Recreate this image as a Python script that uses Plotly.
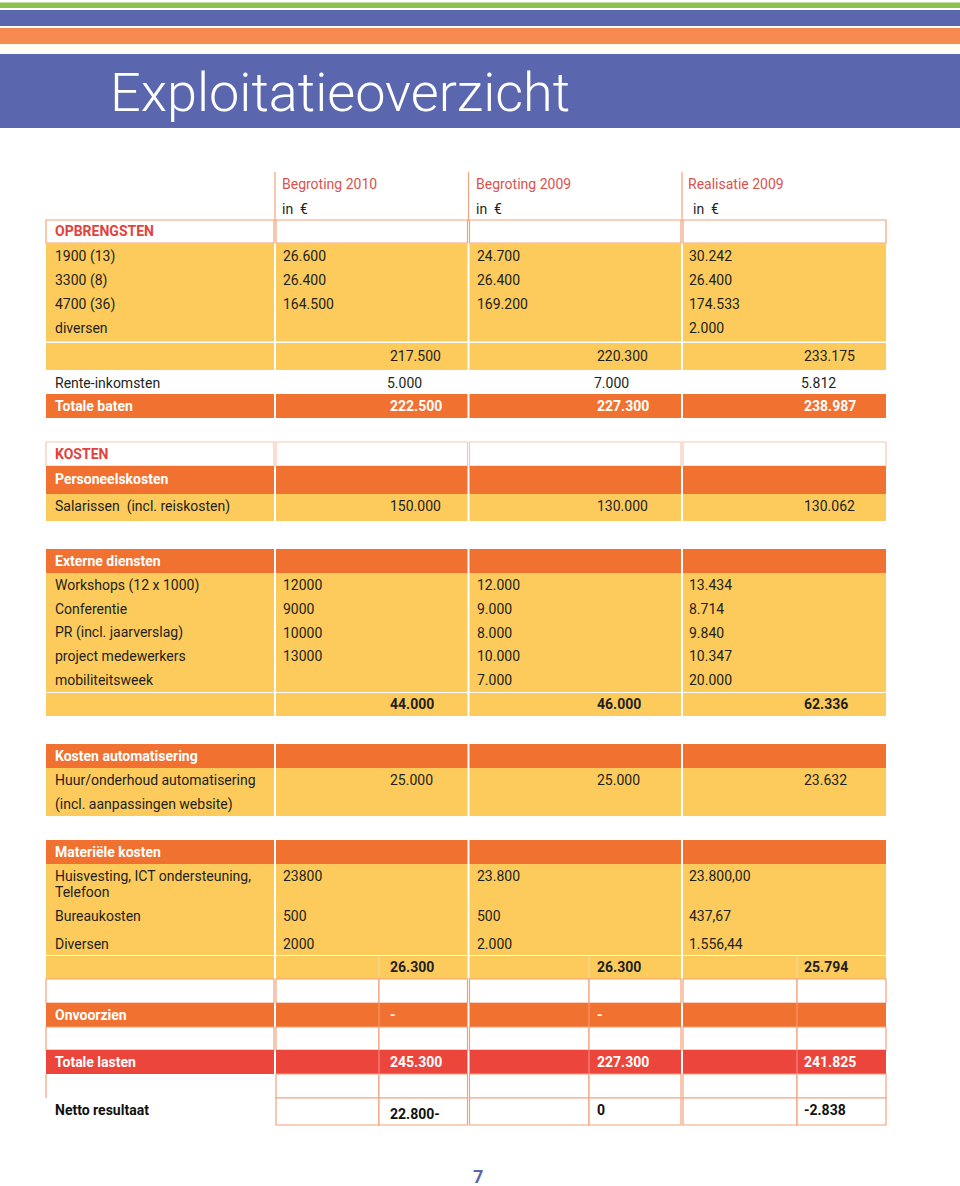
import plotly.graph_objects as go

# kolomkoppen
kolommen = ["Begroting 2010", "Begroting 2009", "Realisatie 2009"]

# opbrengsten
opbrengst_posten = ["1900 (13)", "3300 (8)", "4700 (36)", "diversen"]
opbrengst_b2010 = ["26.600", "26.400", "164.500", ""]
opbrengst_b2009 = ["24.700", "26.400", "169.200", ""]
opbrengst_r2009 = ["30.242", "26.400", "174.533", "2.000"]
opbrengst_subtotaal = ["217.500", "220.300", "233.175"]
rente_inkomsten = ["5.000", "7.000", "5.812"]
totale_baten = ["222.500", "227.300", "238.987"]

# kosten
salarissen = ["150.000", "130.000", "130.062"]

extern_posten = ["Workshops (12 x 1000)", "Conferentie", "PR (incl. jaarverslag)",
                 "project medewerkers", "mobiliteitsweek"]
extern_b2010 = ["12000", "9000", "10000", "13000", ""]
extern_b2009 = ["12.000", "9.000", "8.000", "10.000", "7.000"]
extern_r2009 = ["13.434", "8.714", "9.840", "10.347", "20.000"]
extern_subtotaal = ["44.000", "46.000", "62.336"]

automatisering = ["25.000", "25.000", "23.632"]

materieel_posten = ["Huisvesting, ICT ondersteuning,", "Bureaukosten", "Diversen"]
materieel_b2010 = ["23800", "500", "2000"]
materieel_b2009 = ["23.800", "500", "2.000"]
materieel_r2009 = ["23.800,00", "437,67", "1.556,44"]
materieel_subtotaal = ["26.300", "26.300", "25.794"]

onvoorzien = ["-", "-", ""]
totale_lasten = ["245.300", "227.300", "241.825"]
netto_resultaat = ["22.800-", "0", "-2.838"]

# kleuren / opmaak
YELLOW = "#fccb5b"
ORANGE = "#f07130"
RED = "#eb453c"
LINE = "#f2a27c"
INK = "#231f20"
HEAD = "#d9534e"
BLUE = "#5a67ae"
FONT = "Roboto"

W, H = 960, 1186
COL_X = [(46, 274), (276, 467.5), (469.5, 681), (683, 886)]
SUB_X = [379, 589, 797]
ITEM_X = [281, 475, 687]
TOT_X = [388, 595, 802]
LAB_X = 53

fig = go.Figure()


def box(x0, x1, y0, y1, fill="white", line=None, lw=1.2):
    fig.add_shape(type="rect", xref="x", yref="y", x0=x0, x1=x1, y0=y0, y1=y1,
                  fillcolor=fill, line=dict(color=line or fill, width=lw if line else 0))


def vline(x, y0, y1, color=LINE, lw=1.2):
    fig.add_shape(type="line", xref="x", yref="y", x0=x, x1=x, y0=y0, y1=y1,
                  line=dict(color=color, width=lw))


def txt(x, y, s, color=INK, size=14, bold=False, anchor="left", weight=None):
    if not s:
        return
    f = dict(family=FONT, size=size, color=color)
    if weight:
        f["weight"] = weight
    fig.add_annotation(x=x, y=y, xref="x", yref="y", text=f"<b>{s}</b>" if bold else s,
                       showarrow=False, xanchor=anchor, yanchor="middle", font=f)


def band(y0, y1, fill, line=None):
    for x0, x1 in COL_X:
        box(x0, x1, y0, y1, fill, line)


def split_row(y0, y1, fill="white", line=LINE, first=True):
    if first:
        box(*COL_X[0], y0, y1, fill, line)
    for c in range(1, 4):
        x0, x1 = COL_X[c]
        box(x0, SUB_X[c - 1], y0, y1, fill, line)
        box(SUB_X[c - 1], x1, y0, y1, fill, line)


# kopbalken
box(0, W, 2.5, 8, "#8dc14c")
box(0, W, 10, 26, BLUE)
box(0, W, 28, 44, "#f68a4f")
box(0, W, 44, 54, "#fffcf4")
box(0, W, 54, 128, BLUE)
txt(108, 92, "Exploitatieoverzicht", color="white", size=54, weight=300)

# kolomkoppen
for c, naam in enumerate(kolommen):
    vline(COL_X[c][1] + 1, 172, 221)
    txt(ITEM_X[c] - 1, 184, naam, color=HEAD)
    txt(ITEM_X[c] - 1 + (5 if c == 2 else 0), 209, "in  €")

# OPBRENGSTEN
band(220, 243, "white", LINE)
txt(LAB_X, 231, "OPBRENGSTEN", color="#e2423c", bold=True)
band(243, 341.5, YELLOW)
for i, post in enumerate(opbrengst_posten):
    yc = 256 + i * 24
    txt(LAB_X, yc, post)
    for c, reeks in enumerate([opbrengst_b2010, opbrengst_b2009, opbrengst_r2009]):
        txt(ITEM_X[c], yc, reeks[i])
band(343, 370, YELLOW)
for c in range(3):
    txt(TOT_X[c], 356, opbrengst_subtotaal[c])
txt(LAB_X, 383, "Rente-inkomsten")
for c in range(3):
    txt(TOT_X[c] - 3, 383, rente_inkomsten[c])
band(394, 418, ORANGE)
txt(LAB_X, 406, "Totale baten", color="white", bold=True)
for c in range(3):
    txt(TOT_X[c], 406, totale_baten[c], color="white", bold=True)

# KOSTEN
band(442, 466, "white", "#f3c9b6")
txt(LAB_X, 454, "KOSTEN", color="#e2423c", bold=True)
band(466, 494, ORANGE)
txt(LAB_X, 479, "Personeelskosten", color="white", bold=True)
band(494, 521, YELLOW)
txt(LAB_X, 506, "Salarissen  (incl. reiskosten)")
for c in range(3):
    txt(TOT_X[c], 506, salarissen[c])

band(549, 573, ORANGE)
txt(LAB_X, 561, "Externe diensten", color="white", bold=True)
band(573, 692, YELLOW)
for i, post in enumerate(extern_posten):
    yc = 585 + i * 23.8
    txt(LAB_X, yc, post)
    for c, reeks in enumerate([extern_b2010, extern_b2009, extern_r2009]):
        txt(ITEM_X[c], yc, reeks[i])
band(693, 716, YELLOW)
for c in range(3):
    txt(TOT_X[c], 704, extern_subtotaal[c], bold=True)

band(744, 768, ORANGE)
txt(LAB_X, 756, "Kosten automatisering", color="white", bold=True)
band(768, 816, YELLOW)
txt(LAB_X, 780, "Huur/onderhoud automatisering")
txt(LAB_X, 804, "(incl. aanpassingen website)")
for c in range(3):
    txt(TOT_X[c], 780, automatisering[c])

band(840, 864, ORANGE)
txt(LAB_X, 852, "Materiële kosten", color="white", bold=True)
band(864, 955, YELLOW)
materieel_y = [876, 916, 944]
for i, post in enumerate(materieel_posten):
    txt(LAB_X, materieel_y[i], post)
    for c, reeks in enumerate([materieel_b2010, materieel_b2009, materieel_r2009]):
        txt(ITEM_X[c], materieel_y[i], reeks[i])
txt(LAB_X, 892, "Telefoon")
band(956, 979, YELLOW)
for c in range(3):
    vline(SUB_X[c], 956, 979, color="#f8dc9c")
    txt(TOT_X[c], 967, materieel_subtotaal[c], bold=True)

split_row(979, 1003)
band(1003, 1027, ORANGE)
txt(LAB_X, 1015, "Onvoorzien", color="white", bold=True)
for c in range(3):
    vline(SUB_X[c], 1003, 1027, color="#f39a6a")
    txt(TOT_X[c], 1015, onvoorzien[c], color="white", bold=True)

split_row(1027, 1050)
band(1050, 1074, RED)
txt(LAB_X, 1062, "Totale lasten", color="white", bold=True)
for c in range(3):
    vline(SUB_X[c], 1050, 1074, color="#f08a80")
    txt(TOT_X[c], 1062, totale_lasten[c], color="white", bold=True)

split_row(1074, 1098, first=False)
vline(COL_X[0][0], 1074, 1098)
split_row(1098, 1125, first=False)
txt(LAB_X, 1110, "Netto resultaat", bold=True, color="#111111")
netto_y = [1114, 1110, 1110]
for c in range(3):
    txt(TOT_X[c], netto_y[c], netto_resultaat[c], bold=True, color="#111111")

# paginanummer
txt(478, 1176, "7", color=BLUE, size=18, bold=True, anchor="center")

fig.update_xaxes(range=[0, W], visible=False, fixedrange=True)
fig.update_yaxes(range=[H, 0], visible=False, fixedrange=True)
fig.update_layout(width=W, height=H, margin=dict(l=0, r=0, t=0, b=0),
                  plot_bgcolor="white", paper_bgcolor="white", showlegend=False)

fig.write_html("out.html", config={"displayModeBar": False},
               post_script="document.body.style.margin='0';")
